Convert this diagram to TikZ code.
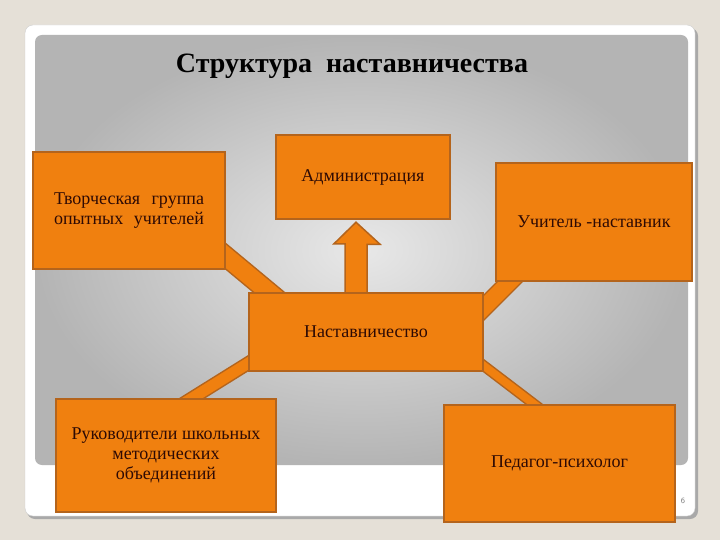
\documentclass[tikz,border=0pt]{standalone}
\usepackage{fontspec}
\setmainfont{Liberation Serif}
\usepackage{tikz}
\usetikzlibrary{positioning}

\definecolor{paper}{HTML}{E5E0D7}
\definecolor{cardedge}{HTML}{CFCFCF}
\definecolor{cardshadow}{HTML}{A9A9A9}
\definecolor{panellight}{HTML}{E8E8E8}
\definecolor{paneldark}{HTML}{B4B4B4}
\definecolor{boxorange}{HTML}{F0800F}
\definecolor{boxbrown}{HTML}{B4641C}
\definecolor{textbrown}{HTML}{2E0A04}

\pgfdeclarelayer{panel}
\pgfdeclarelayer{links}
\pgfsetlayers{panel,links,main}

\begin{document}
\begin{tikzpicture}[
			x=1pt, y=-1pt,
			every node/.style={font=\fontsize{18}{20}\selectfont, text=textbrown},
			box/.style={draw=boxbrown, fill=boxorange, line width=2.5pt, rectangle, align=center, inner sep=0pt},
			band/.style={draw=boxbrown, line width=1.5pt, double=boxorange},
			blockarrow/.style={draw=boxbrown, fill=boxorange, line width=1.5pt, line join=miter}
			]
			
			\useasboundingbox (0,0) rectangle (720,540);
			
			% Fondo de la diapositiva
			\begin{pgfonlayer}{panel}
				\fill[paper] (0,0) rectangle (720,540);
				\fill[cardshadow, rounded corners=8pt] (27,28) rectangle (698,519);
				\draw[cardedge, fill=white, rounded corners=8pt] (25,25) rectangle (695,516);
				\shade[rounded corners=7pt, inner color=panellight, outer color=paneldark] (35,35) rectangle (688,465);
			\end{pgfonlayer}
			
			% Titulo
			\node[font=\bfseries\fontsize{28}{30}\selectfont, text=black] (title) at (352,66)
			{Структура\ \ наставничества};
			
			% Cajas
			\node[box, minimum width=192pt, minimum height=117pt] (creative) at (129,210.5)
			{\makebox[150pt][s]{Творческая\ \ группа}\\\makebox[150pt][s]{опытных\ \ учителей}};
			
			\node[box, minimum width=174pt, minimum height=84pt] (admin) at (363,177)
			{Администрация};
			
			\node[box, minimum width=196pt, minimum height=118pt] (mentor) at (594,222)
			{Учитель -наставник};
			
			\node[box, minimum width=234pt, minimum height=78pt] (hub) at (366,332)
			{Наставничество};
			
			\node[box, minimum width=220pt, minimum height=113pt] (heads) at (166,455.5)
			{Руководители школьных\\методических\\объединений};
			
			\node[box, minimum width=231pt, minimum height=117pt] (psych) at (559.5,463.5)
			{Педагог-психолог};
			
			\node[font=\fontsize{8}{8}\selectfont\sffamily, text=gray] (page) at (683,501) {6};
			
			% Bandas
			\begin{pgfonlayer}{links}
				\draw[band, double distance=18pt] ([shift={(-21,-31)}]creative.south east) -- ([shift={(35,12)}]hub.north west);
				\draw[band, double distance=16pt] ([shift={(-9,24.5)}]hub.north east) -- ([shift={(25,-10.5)}]mentor.south west);
				\draw[band, double distance=11pt] ([shift={(12,24)}]hub.west) -- ([shift={(14,8)}]heads.north);
				\draw[band, double distance=8pt] ([shift={(-11,-14.5)}]hub.south east) -- ([shift={(100,7)}]psych.north west);
				
				% Flecha
				\draw[blockarrow] ([shift={(-21,4)}]hub.north) -- ++(0,-52) -- ++(-11,0)
				-- ([shift={(-7,2)}]admin.south) -- ++(24,22) -- ++(-13,0) -- ++(0,52) -- cycle;
			\end{pgfonlayer}
			
		\end{tikzpicture}
\end{document}
